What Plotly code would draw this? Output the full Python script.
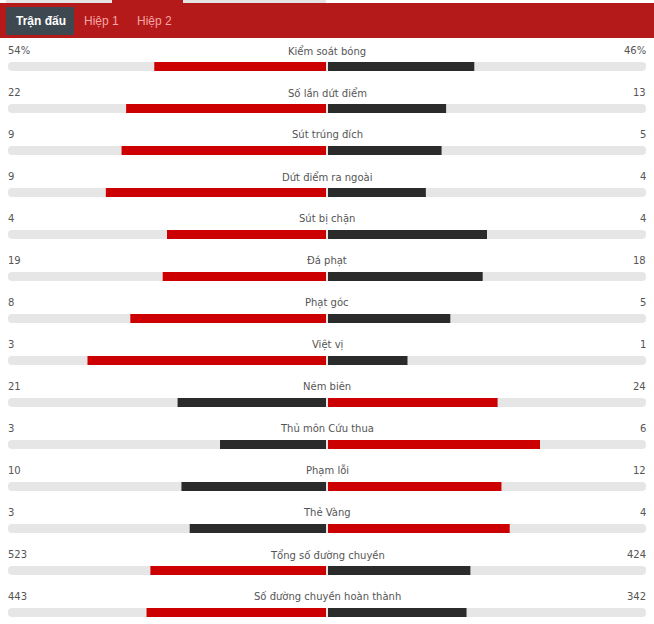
import plotly.graph_objects as go

# ---- data ----
stats = ["Kiểm soát bóng", "Số lần dứt điểm", "Sút trúng đích", "Dứt điểm ra ngoài",
         "Sút bị chặn", "Đá phạt", "Phạt góc", "Việt vị", "Ném biên",
         "Thủ môn Cứu thua", "Phạm lỗi", "Thẻ Vàng", "Tổng số đường chuyền",
         "Số đường chuyền hoàn thành"]
home = [54, 22, 9, 9, 4, 19, 8, 3, 21, 3, 10, 3, 523, 443]
away = [46, 13, 5, 4, 4, 18, 5, 1, 24, 6, 12, 4, 424, 342]
home_text = ["54%", "22", "9", "9", "4", "19", "8", "3", "21", "3", "10", "3", "523", "443"]
away_text = ["46%", "13", "5", "4", "4", "18", "5", "1", "24", "6", "12", "4", "424", "342"]
tabs = ["Trận đấu", "Hiệp 1", "Hiệp 2"]

# ---- styling ----
W, H = 654, 624
RED = "#cc0000"
DARK = "#2b2b2b"
TRACK = "#e6e6e6"
HEADER = "#b41a1a"
TXT = "#555555"
FONT = "DejaVu Sans"
FSIZE = 10
TABFONT = "Liberation Sans"

CENTER = 327.0
HALF = 318.0
ROW0 = 66.5
ROWSTEP = 42.0
GAP = 1.0 / HALF

n = len(stats)
rows = list(range(n))
left_share = [h / (h + a) for h, a in zip(home, away)]
right_share = [a / (h + a) for h, a in zip(home, away)]
left_col = [RED if h >= a else DARK for h, a in zip(home, away)]
right_col = [DARK if h >= a else RED for h, a in zip(home, away)]

bw = 9.0 / ROWSTEP

fig = go.Figure()
fig.add_trace(go.Bar(y=rows, x=[2 + 2 * GAP] * n, base=[-1 - GAP] * n, orientation="h",
                     width=bw, marker=dict(color=TRACK, cornerradius=4, line=dict(width=0)),
                     hoverinfo="skip"))
fig.add_trace(go.Bar(y=rows, x=[-s for s in left_share], base=[-GAP] * n, orientation="h",
                     width=bw, marker=dict(color=left_col, line=dict(width=0)),
                     hoverinfo="skip"))
fig.add_trace(go.Bar(y=rows, x=right_share, base=[GAP] * n, orientation="h",
                     width=bw, marker=dict(color=right_col, line=dict(width=0)),
                     hoverinfo="skip"))

lab_off = 15.8 / ROWSTEP
for i in rows:
    fig.add_annotation(x=0, y=i - lab_off, text=stats[i], showarrow=False,
                       xanchor="center", yanchor="middle",
                       font=dict(family=FONT, size=FSIZE, color=TXT))
    fig.add_annotation(x=-1, y=i - lab_off, text=home_text[i], showarrow=False,
                       xanchor="left", yanchor="middle", xshift=-3,
                       font=dict(family=FONT, size=FSIZE, color=TXT))
    fig.add_annotation(x=1, y=i - lab_off, text=away_text[i], showarrow=False,
                       xanchor="right", yanchor="middle", xshift=3,
                       font=dict(family=FONT, size=FSIZE, color=TXT))

def py(p):
    return 1 - p / H

def px(p):
    return p / W

shapes = []
# top thin strip
shapes.append(dict(type="rect", xref="paper", yref="paper", x0=px(6), x1=px(112),
                   y0=py(3), y1=py(0), fillcolor="#e4e4e4", line=dict(width=0)))
shapes.append(dict(type="rect", xref="paper", yref="paper", x0=px(112), x1=px(183),
                   y0=py(3), y1=py(0), fillcolor=HEADER, line=dict(width=0)))
shapes.append(dict(type="rect", xref="paper", yref="paper", x0=px(183), x1=px(326),
                   y0=py(3), y1=py(0), fillcolor="#e4e4e4", line=dict(width=0)))
# header bar
shapes.append(dict(type="rect", xref="paper", yref="paper", x0=0, x1=1,
                   y0=py(38), y1=py(3), fillcolor=HEADER, line=dict(width=0), layer="below"))
# active tab
shapes.append(dict(type="rect", xref="paper", yref="paper", x0=px(6), x1=px(74),
                   y0=py(35), y1=py(7), fillcolor="#3e4850", line=dict(width=0)))

tab_x = [40.5, 101.5, 154.5]
tab_style = [dict(color="white", bold=True), dict(color="#f6a5a5", bold=False),
             dict(color="#f6a5a5", bold=False)]
for t, x, s in zip(tabs, tab_x, tab_style):
    txt = "<b>%s</b>" % t if s["bold"] else t
    fig.add_annotation(xref="paper", yref="paper", x=px(x), y=py(21.5), text=txt,
                       showarrow=False, xanchor="center", yanchor="middle",
                       font=dict(family=TABFONT, size=12, color=s["color"]))

xr = [-CENTER / HALF, (W - CENTER) / HALF]
yr = [(H - ROW0) / ROWSTEP, -ROW0 / ROWSTEP]

fig.update_layout(
    width=W, height=H, margin=dict(l=0, r=0, t=0, b=0),
    paper_bgcolor="white", plot_bgcolor="white",
    barmode="overlay", showlegend=False, shapes=shapes,
    xaxis=dict(range=xr, visible=False, fixedrange=True),
    yaxis=dict(range=yr, visible=False, fixedrange=True),
)

fig.write_html("out.html", config={"displayModeBar": False},
               post_script="document.body.style.margin='0';")
